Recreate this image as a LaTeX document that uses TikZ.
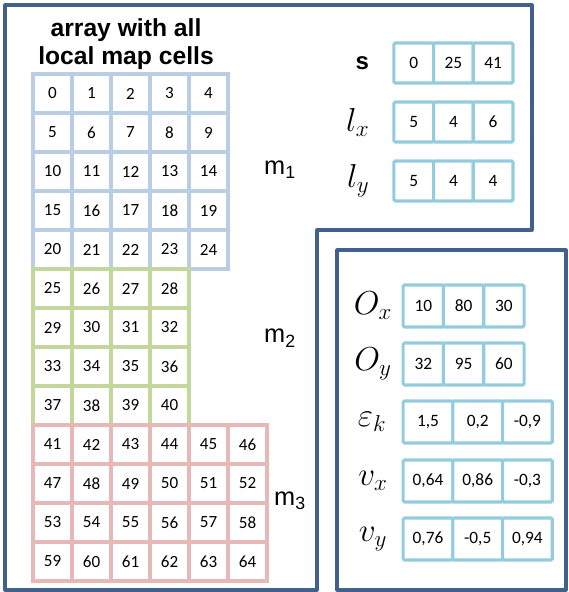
\documentclass[tikz,border=0pt]{standalone}
\usepackage{fontspec}
\setmainfont{Carlito}
\setsansfont{Liberation Sans}
\usepackage{amsmath}
\usetikzlibrary{positioning}
\definecolor{framecol}{RGB}{65,97,140}
\definecolor{bluecell}{RGB}{185,205,229}
\definecolor{greencell}{RGB}{195,214,155}
\definecolor{redcell}{RGB}{230,185,184}
\definecolor{arraycell}{RGB}{147,205,221}

\tikzset{
  frame/.style={draw=framecol, line width=2.3pt, line join=round},
  gridcell/.style={draw=#1, line width=2.3pt, fill=white, minimum size=29.25pt,
    inner sep=0pt, font=\fontsize{12.8}{14}\selectfont},
  arrcell/.style={draw=arraycell, line width=2.3pt, fill=white, rounded corners=1pt,
    minimum width=29.8pt, minimum height=30pt, inner sep=0pt,
    font=\fontsize{13}{15}\selectfont},
  widecell/.style={arrcell, minimum width=37.3pt, minimum height=31.5pt},
  oncell/.style={arrcell, minimum width=30.2pt, minimum height=31.5pt},
  maplabel/.style={font=\sffamily\fontsize{19}{22}\selectfont},
  varlabel/.style={font=\fontsize{23}{27}\selectfont, inner sep=0pt}
}

\begin{document}
\begin{tikzpicture}[x=0.75pt, y=-0.75pt]
  \useasboundingbox (0,0) rectangle (568,592);

  % frames
  \draw[frame] (5,5) -- (532,5) -- (532,230) -- (317,230) -- (317,590) -- (5,590) -- cycle;
  \draw[frame] (337,250) rectangle (566,590);

  % title
  \node[font=\sffamily\bfseries\fontsize{18.5}{21}\selectfont, align=center] (title)
    at (126,44) {array with all\\local map cells};

  % local map m1
  \foreach \n in {0,...,24}{
    \pgfmathtruncatemacro\col{mod(\n,5)}
    \pgfmathtruncatemacro\row{\n/5}
    \node[gridcell=bluecell] (c\n) at (52.5+39*\col, 93.5+39*\row) {\n};
  }
  % local map m2
  \foreach \n in {25,...,40}{
    \pgfmathtruncatemacro\col{mod(\n-25,4)}
    \pgfmathtruncatemacro\row{(\n-25)/4}
    \node[gridcell=greencell] (c\n) at (52.5+39*\col, 288.5+39*\row) {\n};
  }
  % local map m3
  \foreach \n in {41,...,64}{
    \pgfmathtruncatemacro\col{mod(\n-41,6)}
    \pgfmathtruncatemacro\row{(\n-41)/6}
    \node[gridcell=redcell] (c\n) at (52.5+39*\col, 444.5+39*\row) {\n};
  }

  \node[maplabel] (m1) at (280,170) {m\textsubscript{1}};
  \node[maplabel] (m2) at (280,338) {m\textsubscript{2}};
  \node[maplabel] (m3) at (290,501) {m\textsubscript{3}};

  % start index and size of each map
  \foreach \v [count=\k] in {0,25,41}
    \node[arrcell] (s\k) at (374+39.7*\k, 63) {\v};
  \foreach \v [count=\k] in {5,4,6}
    \node[arrcell] (lx\k) at (374+39.7*\k, 122) {\v};
  \foreach \v [count=\k] in {5,4,4}
    \node[arrcell] (ly\k) at (374+39.7*\k, 181) {\v};

  \node[maplabel, font=\sffamily\bfseries\fontsize{18}{22}\selectfont, left=14pt of s1] (lbls) {s};
  \node[varlabel, left=17pt of lx1] (lblx) {$l_x$};
  \node[varlabel, left=17pt of ly1] (lbly) {$l_y$};

  % map offsets and motion
  \foreach \v [count=\k] in {10,80,30}
    \node[oncell] (ox\k) at (383+40.3*\k, 306) {\v};
  \foreach \v [count=\k] in {32,95,60}
    \node[oncell] (oy\k) at (383+40.3*\k, 364) {\v};
  \foreach \v [count=\k] in {{1,5},{0,2},{-0,9}}
    \node[widecell] (ek\k) at (378.3+49.7*\k, 422) {\v};
  \foreach \v [count=\k] in {{0,64},{0,86},{-0,3}}
    \node[widecell] (vx\k) at (378.3+49.7*\k, 481) {\v};
  \foreach \v [count=\k] in {{0,76},{-0,5},{0,94}}
    \node[widecell] (vy\k) at (378.3+49.7*\k, 539) {\v};

  \node[varlabel] (lblox) at (373,306) {$O_x$};
  \node[varlabel] (lbloy) at (373,364) {$O_y$};
  \node[varlabel] (lblek) at (372,422) {$\varepsilon_k$};
  \node[varlabel] (lblvx) at (373,481) {$v_x$};
  \node[varlabel] (lblvy) at (373,539) {$v_y$};
\end{tikzpicture}
\end{document}
